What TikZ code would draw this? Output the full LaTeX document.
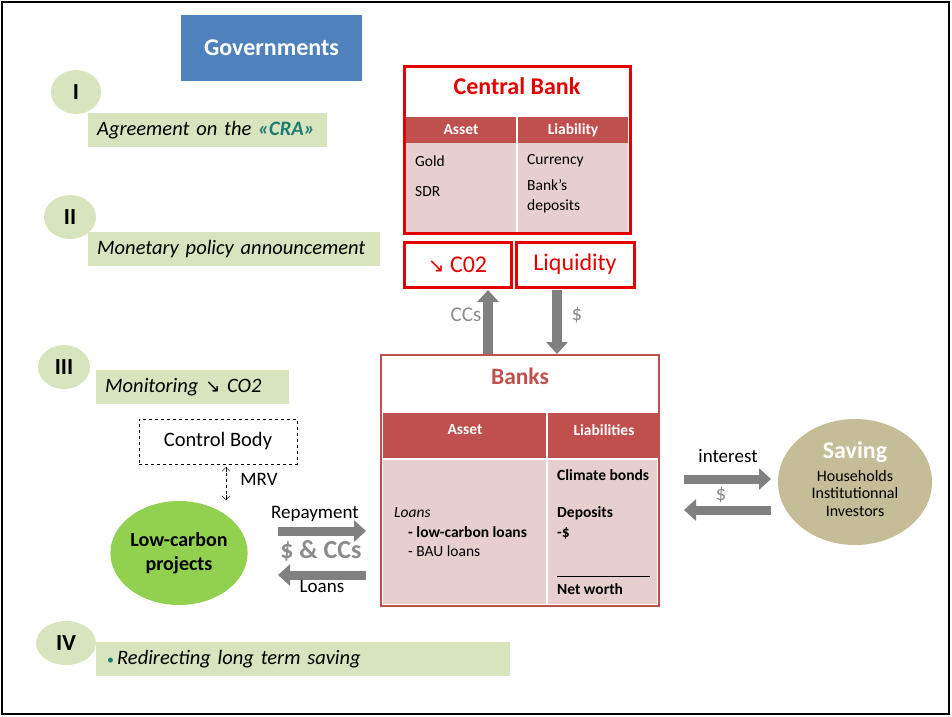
\documentclass[tikz,border=0pt]{standalone}
\usepackage{fontspec}
\setmainfont{Carlito}
\newfontfamily\symf{DejaVu Sans}
\usetikzlibrary{arrows.meta,shapes.geometric,calc}
\definecolor{govblue}{RGB}{79,129,189}
\definecolor{lgreen}{RGB}{215,228,189}
\definecolor{tealc}{RGB}{30,125,115}
\definecolor{cbred}{RGB}{228,0,0}
\definecolor{hdrred}{RGB}{192,80,77}
\definecolor{pinkc}{RGB}{230,207,206}
\definecolor{agray}{RGB}{128,128,128}
\definecolor{lgray}{RGB}{140,140,140}
\definecolor{projgreen}{RGB}{146,208,80}
\definecolor{savetan}{RGB}{196,189,151}
\newcommand\fsz[1]{\fontsize{#1}{#1}\selectfont}
\tikzset{
  numcirc/.style={ellipse,fill=lgreen,inner sep=0pt,minimum height=44pt,font=\fsz{23}\bfseries},
  greenbar/.style={rectangle,fill=lgreen,anchor=north west,inner xsep=9pt,inner ysep=0pt,minimum height=34pt,align=left,font=\fsz{20.5}\itshape},
  redbox/.style={rectangle,draw=cbred,line width=3pt,inner sep=0pt},
  hdr/.style={rectangle,fill=hdrred,inner sep=0pt},
  bodyc/.style={rectangle,fill=pinkc,inner sep=0pt},
  hdrtxt/.style={text=white,font=\fsz{15.5}\bfseries},
  celltxt/.style={anchor=base west,inner sep=0pt,font=\fsz{15.5}},
  fat/.style={draw=agray,line width=9pt,-{Triangle[length=12pt,width=21pt]}},
  lbl/.style={font=\fsz{19},inner sep=0pt},
  barb/.style={-{Straight Barb[length=4pt,width=8pt]}},
}
\begin{document}
\begin{tikzpicture}[x=1pt,y=-1pt]
\useasboundingbox (0,0) rectangle (952,716);
\draw[line width=2pt] (2,2) rectangle (949,714);
% Governments
\node[rectangle,fill=govblue,minimum width=181pt,minimum height=66pt,text=white,font=\fsz{24}\bfseries] (gov) at (271.5,48) {Governments};
% numerals
\node[numcirc,minimum width=50pt] (n1) at (76,92) {I};
\node[numcirc,minimum width=52pt] (n2) at (70,217) {II};
\node[numcirc,minimum width=52pt] (n3) at (64,367) {III};
\node[numcirc,minimum width=60pt] (n4) at (66,643) {IV};
% green bars
\node[greenbar,minimum width=239pt,text width=221pt] (b1) at (88,113) {Agreement on the \textcolor{tealc}{\bfseries«CRA»}};
\node[greenbar,minimum width=292pt,text width=274pt] (b2) at (88,232) {Monetary policy announcement};
\node[greenbar,minimum width=193pt,text width=175pt] (b3) at (96,370) {Monitoring {\symf\fsz{18}\upshape ↘} CO2};
\node[greenbar,minimum width=410pt,text width=392pt,inner xsep=11pt] (b4) at (96,642) {\textcolor{tealc}{\upshape\fsz{14}•}\hspace{3pt}Redirecting long term saving};
% Central bank
\node[hdr,minimum width=222pt,minimum height=26pt] (cbh) at (517,129.5) {};
\node[bodyc,minimum width=222pt,minimum height=89pt] (cbb) at (517,187.5) {};
\draw[white,line width=1.5pt] (cbh.north) -- (cbb.south);
\node[redbox,minimum width=226pt,minimum height=167pt] (cb) at (517,149.5) {};
\node[text=cbred,font=\fsz{24}\bfseries,inner sep=0pt] (cbt) at (517,86) {Central Bank};
\node[hdrtxt] (cba) at (461,130) {Asset};
\node[hdrtxt] (cbl) at (573,130) {Liability};
\node[celltxt] (g1) at (415,166) {Gold};
\node[celltxt] (g2) at (415,196) {SDR};
\node[celltxt] (g3) at (527,164) {Currency};
\node[celltxt] (g4) at (527,190) {Bank’s};
\node[celltxt] (g5) at (527,210) {deposits};
% CO2 / liquidity
\node[redbox,minimum width=107pt,minimum height=45pt,text=cbred,font=\fsz{24}] (co2) at (457.5,264.5) {{\symf\fsz{20}↘} C02};
\node[redbox,minimum width=118pt,minimum height=45pt,text=cbred,font=\fsz{24}] (liq) at (575,264.5) {Liquidity};
% Banks
\node[hdr,minimum width=275pt,minimum height=45pt] (bh) at (520.5,435.5) {};
\node[bodyc,minimum width=274pt,minimum height=144pt] (bb) at (520,532) {};
\draw[white,line width=2pt] (547,413) -- (547,604);
\node[rectangle,draw=hdrred,line width=2pt,minimum width=278pt,minimum height=251pt,inner sep=0pt] (banks) at (520,480.5) {};
\node[text=hdrred,font=\fsz{23.5}\bfseries,inner sep=0pt] (bt) at (520,376) {Banks};
\node[hdrtxt] (ba) at (465,430) {Asset};
\node[hdrtxt] (bl) at (604,430) {Liabilities};
\node[celltxt,font=\fsz{15.5}\itshape] (l1) at (394,517) {Loans};
\node[celltxt,font=\fsz{15.5}\bfseries] (l2) at (408,537) {- low-carbon loans};
\node[celltxt] (l3) at (408,556) {- BAU loans};
\node[celltxt,font=\fsz{15.5}\bfseries] (r1) at (557,480) {Climate bonds};
\node[celltxt,font=\fsz{15.5}\bfseries] (r2) at (557,517) {Deposits};
\node[celltxt,font=\fsz{15.5}\bfseries] (r3) at (557,537) {-\$};
\draw[line width=1pt] (557,576) -- (650,576);
\node[celltxt,font=\fsz{15.5}\bfseries] (r4) at (557,594) {Net worth};
% vertical arrows
\coordinate (ccs0) at (488,354);
\coordinate (ccs1) at (488,290);
\coordinate (d0) at (557,290);
\coordinate (d1) at (557,354);
\draw[fat,line width=10pt] (ccs0) -- (ccs1);
\draw[fat,line width=10pt] (d0) -- (d1);
\node[lbl,text=lgray,font=\fsz{21}] (ccl) at (466,315) {CCs};
\node[lbl,text=lgray,font=\fsz{21}] (dl) at (577,315) {\$};
% Control body
\node[rectangle,draw,dashed,minimum width=158pt,minimum height=45pt,font=\fsz{20.5}] (ctrl) at (218,441.5) {Control Body};
\node[ellipse,fill=projgreen,minimum width=136pt,minimum height=104pt,inner sep=0pt,align=center,font=\fsz{20}\bfseries] (proj) at (179,553) {Low-carbon\\[4pt]projects};
\coordinate (m0) at (226,467);
\coordinate (m1) at (226,500);
\coordinate (mm) at (226,483.5);
\draw[dashed] (m0) -- (m1);
\draw[barb] ($(m0)+(0,5)$) -- (m0);
\draw[barb] ($(m1)-(0,5)$) -- (m1);
\node[lbl] (mrv) at (259,479) {MRV};
% repayment/loans
\coordinate (rp0) at (278,531);
\coordinate (rp1) at (366,531);
\coordinate (lo0) at (366,575);
\coordinate (lo1) at (278,575);
\draw[fat] (rp0) -- (rp1);
\draw[fat] (lo0) -- (lo1);
\node[lbl] (rpl) at (315,514) {Repayment};
\node[lbl,text=lgray,font=\fsz{26}\bfseries] (dcc) at (321,551) {\$ \& CCs};
\node[lbl] (lol) at (322,586) {Loans};
% Saving
\node[ellipse,fill=savetan,minimum width=154pt,minimum height=126pt,inner sep=0pt] (sav) at (855,482) {};
\node[text=white,font=\fsz{24}\bfseries,inner sep=0pt] (savt) at (855,452) {Saving};
\node[align=center,font=\fsz{16},inner sep=0pt] (savs) at (855,493) {Households\\[1.5pt]Institutionnal\\[1.5pt]Investors};
\coordinate (i0) at (684,479);
\coordinate (i1) at (771,479);
\coordinate (s0) at (771,510);
\coordinate (s1) at (684,510);
\draw[fat] (i0) -- (i1);
\draw[fat] (s0) -- (s1);
\node[lbl] (il) at (728,456) {interest};
\node[lbl,text=lgray,font=\fsz{21}] (sl) at (721,495) {\$};
\end{tikzpicture}
\end{document}
